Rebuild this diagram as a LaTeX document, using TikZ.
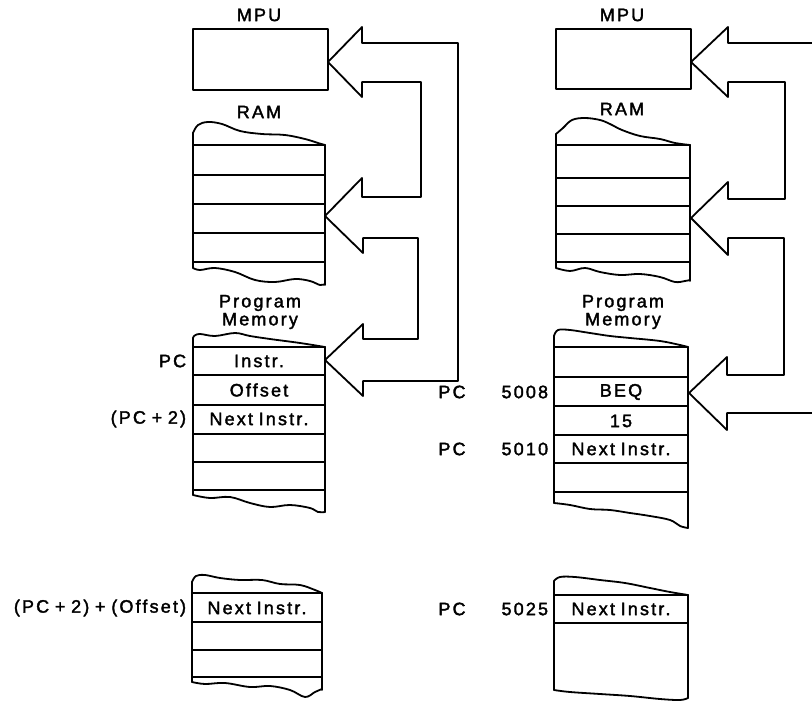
\documentclass[tikz,border=0pt]{standalone}
\usepackage{fontspec}
\setmainfont{Liberation Sans}[LetterSpace=12, WordSpace=0.8, FakeBold=2]
\begin{document}
\begin{tikzpicture}[x=1pt,y=-1pt,line width=1.8pt,line join=round,line cap=round,
  lbl/.style={font=\fontsize{18}{18}\selectfont,inner sep=0pt},
  lblr/.style={lbl,anchor=east},
  wave/.style={line width=1.8pt}]
\useasboundingbox (0,0) rectangle (812,701);

% ---------------- LEFT PANEL ----------------
% MPU
\draw (193,29) rectangle (328,90);
\node[lbl] (lmpu) at (259,15) {MPU};
% RAM
\node[lbl] (lram) at (259,112) {RAM};
\draw[wave] plot[smooth,tension=0.6] coordinates {(325,145) (318,143) (305,139) (285,135) (262,134) (240,131) (222,124) (208,122) (198,125) (193,133)};
\draw (193,133) -- (193,268);
\draw (325,145) -- (325,285);
\foreach \yy in {145,175,204,233,262} \draw (193,\yy) -- (325,\yy);
\draw[wave] plot[smooth,tension=0.6] coordinates {(193,268) (200,270) (215,268) (235,272) (255,280) (275,282) (295,279) (310,281) (320,285) (325,284)};
% Program memory
\node[lbl,align=center] (lpm) at (260,312) {Program\\Memory};
\draw[wave] plot[smooth,tension=0.6] coordinates {(325,347) (300,343) (270,339) (250,336) (235,333) (215,336) (200,334) (194,336) (193,339)};
\draw (193,339) -- (193,495);
\draw (325,347) -- (325,512);
\foreach \yy in {347,375,405,434,462,490} \draw (193,\yy) -- (325,\yy);
\draw[wave] plot[smooth,tension=0.6] coordinates {(193,495) (210,498) (230,497) (250,503) (270,507) (290,505) (310,508) (318,512) (325,512)};
\node[lbl] (linstr) at (259,361) {Instr.};
\node[lbl] (loff) at (259,390) {Offset};
\node[lbl] (lnext) at (259,419) {Next Instr.};
\node[lblr] (lpc) at (187,361) {PC};
\node[lblr] (lpc2) at (187,419) {(PC + 2)};
% bottom block
\draw[wave] plot[smooth,tension=0.6] coordinates {(322,593) (315,590) (300,585) (280,584) (262,580) (240,580) (220,578) (205,575) (196,576) (192,582)};
\draw (192,582) -- (192,682);
\draw (322,593) -- (322,690);
\foreach \yy in {593,622,650,677} \draw (192,\yy) -- (322,\yy);
\draw[wave] plot[smooth,tension=0.6] coordinates {(192,682) (205,684) (225,683) (250,687) (270,686) (290,690) (305,697) (315,692) (322,689)};
\node[lbl] (lnext2) at (257,608) {Next Instr.};
\node[lblr] (lpco) at (187,608) {(PC + 2) + (Offset)};
% bus arrows
\draw (328,62) -- (362,27) -- (362,43) -- (458,43) -- (458,381) -- (363,381) -- (363,396)
  -- (325,360) -- (363,324) -- (363,339) -- (418,339) -- (418,238) -- (363,238) -- (363,253)
  -- (325,216) -- (362,178) -- (362,197) -- (421,197) -- (421,82) -- (362,82) -- (362,97) -- cycle;

% ---------------- RIGHT PANEL ----------------
\draw (556,29) rectangle (691,89);
\node[lbl] (rmpu) at (622,15) {MPU};
\node[lbl] (rram) at (622,109) {RAM};
\draw[wave] plot[smooth,tension=0.6] coordinates {(690,145) (675,143) (660,139) (640,136) (622,130) (610,124) (600,120) (585,118) (572,120) (563,128) (556,134)};
\draw (556,134) -- (556,268);
\draw (690,145) -- (690,281);
\foreach \yy in {145,178,206,234,262} \draw (556,\yy) -- (690,\yy);
\draw[wave] plot[smooth,tension=0.6] coordinates {(556,268) (570,271) (585,268) (600,272) (620,275) (640,274) (660,277) (675,282) (685,281) (690,280)};
\node[lbl,align=center] (rpm) at (623,312) {Program\\Memory};
\draw[wave] plot[smooth,tension=0.6] coordinates {(688,347) (680,345) (660,341) (630,338) (610,336) (590,333) (570,330) (558,330) (554,336)};
\draw (554,336) -- (554,503);
\draw (688,347) -- (688,528);
\foreach \yy in {347,377,406,435,463,492} \draw (554,\yy) -- (688,\yy);
\draw[wave] plot[smooth,tension=0.6] coordinates {(554,503) (570,505) (590,509) (610,510) (630,513) (650,516) (670,520) (680,526) (688,528)};
\node[lbl] (rbeq) at (621,392) {BEQ};
\node[lbl] (r15) at (621,421) {15};
\node[lbl] (rnext) at (621,449) {Next Instr.};
\node[lblr] (r5008) at (549,392) {5008};
\node[lblr] (r5010) at (549,449) {5010};
\node[lbl] (rpc1) at (452,392) {PC};
\node[lbl] (rpc2) at (452,449) {PC};
% bottom block
\draw[wave] plot[smooth,tension=0.6] coordinates {(688,595) (670,592) (650,588) (625,583) (600,580) (575,577) (560,577) (554,581)};
\draw (554,581) -- (554,690);
\draw (688,595) -- (688,698);
\foreach \yy in {595,623} \draw (554,\yy) -- (688,\yy);
\draw[wave] plot[smooth,tension=0.6] coordinates {(554,690) (570,692) (600,694) (630,696) (660,699) (680,700) (688,698)};
\node[lbl] (rnext2) at (621,609) {Next Instr.};
\node[lblr] (r5025) at (549,609) {5025};
\node[lbl] (rpc3) at (452,609) {PC};
% bus arrows
\draw (812,43) -- (728,43) -- (728,27) -- (691,62) -- (728,97) -- (728,82) -- (785,82) -- (785,199)
  -- (728,199) -- (728,182) -- (691,218) -- (728,255) -- (728,238) -- (784,238) -- (784,375)
  -- (727,375) -- (727,357) -- (689,393) -- (727,430) -- (727,413) -- (812,413);
\end{tikzpicture}
\end{document}
